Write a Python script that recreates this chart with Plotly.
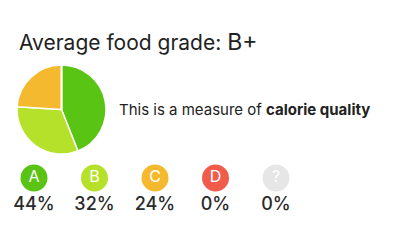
import plotly.graph_objects as go

grades = ["A", "B", "C", "D", "?"]
percents = [44, 32, 24, 0, 0]
colors = ["#5ac414", "#b6e12a", "#f5b930", "#f05c4b", "#e6e6e6"]
title_text = "Average food grade: "
overall_grade = "B+"
subtitle_plain = "This is a measure of "
subtitle_bold = "calorie quality"

fig = go.Figure()

fig.add_trace(go.Pie(
    values=percents, labels=grades, sort=False, direction="clockwise", rotation=0,
    marker=dict(colors=colors, line=dict(color="white", width=1.5)),
    textinfo="none", hoverinfo="none", showlegend=False,
    domain=dict(x=[0.0425, 0.265], y=[0.358, 0.729]),
))

idx = list(range(len(grades)))
fig.add_trace(go.Scatter(
    x=idx, y=[1] * len(grades), mode="markers+text",
    marker=dict(size=27, color=colors, line=dict(width=0)),
    text=grades, textposition="middle center",
    textfont=dict(family="Inter, Roboto, sans-serif", size=16, color="white"),
    hoverinfo="none", showlegend=False,
))
fig.add_trace(go.Scatter(
    x=idx, y=[0] * len(grades), mode="text",
    text=[f"{p}%" for p in percents], textposition="middle center",
    textfont=dict(family="Inter, Roboto, sans-serif", size=18, color="#2a2a2a", weight=500),
    hoverinfo="none", showlegend=False,
))

fig.add_annotation(
    x=17 / 400, y=1 - 42 / 240, xref="paper", yref="paper", xanchor="left", yanchor="middle",
    text=f"{title_text}<span style='font-size:23px'>{overall_grade}</span>", showarrow=False,
    font=dict(family="Inter, Roboto, sans-serif", size=21, color="#222222"),
)
fig.add_annotation(
    x=117 / 400, y=1 - 110 / 240, xref="paper", yref="paper", xanchor="left", yanchor="middle",
    text=f"{subtitle_plain}<b>{subtitle_bold}</b>", showarrow=False,
    font=dict(family="Inter, Roboto, sans-serif", size=15, color="#222222"),
)

fig.update_layout(
    width=400, height=240, margin=dict(l=0, r=0, t=0, b=0),
    paper_bgcolor="white", plot_bgcolor="white",
    xaxis=dict(range=[-34 / 60.5, (400 - 34) / 60.5], visible=False, fixedrange=True),
    yaxis=dict(range=[-35 / 27, (240 - 35) / 27], visible=False, fixedrange=True),
)

fig.write_html("out.html", config={"displayModeBar": False})
